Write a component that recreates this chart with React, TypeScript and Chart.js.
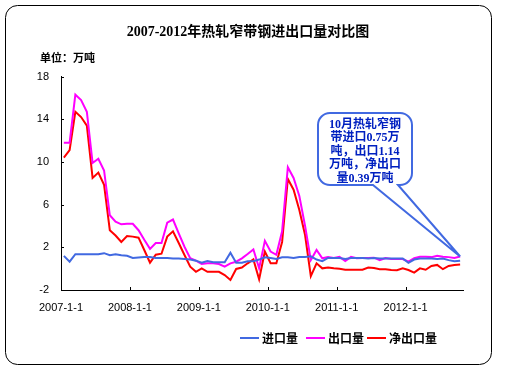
import { useEffect, useRef } from 'react';
import { Chart, registerables } from 'chart.js';

Chart.register(...registerables);

const titleText = '2007-2012年热轧窄带钢进出口量对比图';
const unitText = '单位：万吨';
const seriesNames = ['进口量', '出口量', '净出口量'];
const seriesColors = ['#4169E1', '#FF00FF', '#FF0000'];
const calloutLines = ['10月热轧窄钢', '带进口0.75万', '吨，出口1.14', '万吨，净出口', '量0.39万吨'];

// x tick positions (month index boundaries) and their labels
const tickPositions = [-0.5, 11.5, 23.5, 35.5, 47.5, 59.5];
const tickLabels = ['2007-1-1', '2008-1-1', '2009-1-1', '2010-1-1', '2011-1-1', '2012-1-1'];
const yTicks = [-2, 2, 6, 10, 14, 18];

// monthly values, Jan 2007 .. Oct 2012 (万吨)
const importVals = [
  1.2, 0.65, 1.35, 1.35, 1.35, 1.35, 1.35, 1.45, 1.25, 1.35, 1.25, 1.2,
  1.0, 1.05, 1.1, 1.1, 1.0, 1.0, 1.0, 0.95, 0.95, 0.9, 0.85, 0.75,
  0.55, 0.72, 0.6, 0.6, 0.6, 1.5, 0.55, 0.55, 0.7, 0.7, 0.85, 1.06,
  1.0, 0.9, 1.06, 1.06, 1.0, 1.1, 1.1, 1.15, 0.85, 0.7, 1.0, 1.0,
  1.0, 0.9, 1.0, 1.0, 1.0, 0.95, 1.0, 0.95, 0.95, 0.95, 0.95, 0.95,
  0.55, 0.85, 0.95, 0.95, 0.95, 0.9, 0.95, 0.8, 0.7, 0.75,
];
const exportVals = [
  11.8, 11.8, 16.3, 15.8, 14.7, 9.9, 10.3, 9.2, 5.0, 4.4, 4.15, 4.2,
  4.2, 3.6, 2.7, 1.85, 2.4, 2.4, 4.3, 4.6, 3.3, 2.05, 0.97, 0.75,
  0.43, 0.5, 0.5, 0.43, 0.18, 0.5, 0.65, 0.97, 1.37, 1.8, 0.03, 2.6,
  1.6, 1.3, 3.5, 9.5, 8.5, 6.8, 4.0, 0.8, 1.75, 0.97, 1.1, 1.0,
  1.1, 0.72, 1.1, 0.97, 1.0, 1.0, 1.03, 0.8, 1.0, 0.9, 0.9, 0.9,
  0.65, 0.97, 1.12, 1.12, 1.08, 1.2, 1.12, 1.08, 1.0, 1.14,
];
const netVals = [
  10.4, 11.1, 14.7, 14.2, 13.4, 8.5, 9.0, 7.85, 3.6, 3.1, 2.5, 3.05,
  3.0, 2.9, 1.75, 0.56, 1.3, 1.4, 3.0, 3.5, 2.4, 1.28, 0.18, -0.3,
  0.03, -0.3, -0.3, -0.3, -0.6, -1.06, -0.03, 0.1, 0.5, 0.87, -1.0, 1.6,
  0.5, 0.5, 2.5, 8.4, 7.4, 5.5, 3.15, -0.7, 0.5, 0.03, 0.1, 0.03,
  0.0, -0.1, -0.1, -0.1, -0.1, 0.1, 0.05, -0.05, -0.05, -0.13, -0.15, 0.03,
  -0.13, -0.37, 0.03, -0.1, 0.25, 0.35, -0.05, 0.25, 0.35, 0.39,
];

const allSeries = [importVals, exportVals, netVals];

const roundRect = (ctx: CanvasRenderingContext2D, x: number, y: number, w: number, h: number, r: number) => {
  ctx.beginPath();
  ctx.moveTo(x + r, y);
  ctx.lineTo(x + w - r, y);
  ctx.arcTo(x + w, y, x + w, y + r, r);
  ctx.lineTo(x + w, y + h - r);
  ctx.arcTo(x + w, y + h, x + w - r, y + h, r);
  ctx.lineTo(x + r, y + h);
  ctx.arcTo(x, y + h, x, y + h - r, r);
  ctx.lineTo(x, y + r);
  ctx.arcTo(x, y, x + r, y, r);
  ctx.closePath();
};

const decor = {
  id: 'decor',
  beforeDraw(chart: any) {
    const ctx = chart.ctx as CanvasRenderingContext2D;
    ctx.save();
    ctx.fillStyle = '#fff';
    ctx.fillRect(0, 0, chart.width, chart.height);
    roundRect(ctx, 5.5, 5.5, 486, 359, 12);
    ctx.strokeStyle = '#000';
    ctx.lineWidth = 1;
    ctx.stroke();
    ctx.restore();
  },
  afterDraw(chart: any) {
    const ctx = chart.ctx as CanvasRenderingContext2D;
    const area = chart.chartArea;
    const xs = chart.scales.x;
    const ys = chart.scales.y;
    ctx.save();

    // inward tick marks
    ctx.strokeStyle = '#000';
    ctx.lineWidth = 1;
    ctx.beginPath();
    tickPositions.forEach((v) => {
      const px = Math.round(xs.getPixelForValue(v)) + 0.5;
      ctx.moveTo(px, area.bottom);
      ctx.lineTo(px, area.bottom - 3);
    });
    yTicks.forEach((v) => {
      const py = Math.round(ys.getPixelForValue(v)) + 0.5;
      ctx.moveTo(area.left, py);
      ctx.lineTo(area.left + 3, py);
    });
    ctx.stroke();

    // title
    ctx.fillStyle = '#000';
    ctx.textBaseline = 'middle';
    ctx.textAlign = 'center';
    ctx.font = "bold 14px 'Liberation Serif', 'Noto Sans CJK SC'";
    ctx.fillText(titleText, 248, 32);
    ctx.textAlign = 'left';
    ctx.font = "bold 11px 'Noto Sans CJK SC'";
    ctx.fillText(unitText, 40, 58);

    // legend
    const legendX = [240, 306, 367];
    ctx.font = "bold 12px 'Noto Sans CJK SC'";
    seriesNames.forEach((name, i) => {
      const x = legendX[i];
      ctx.strokeStyle = seriesColors[i];
      ctx.lineWidth = 2;
      ctx.beginPath();
      ctx.moveTo(x, 338);
      ctx.lineTo(x + 19, 338);
      ctx.stroke();
      ctx.fillStyle = '#000';
      ctx.fillText(name, x + 22, 338);
    });

    // callout
    const last = exportVals.length - 1;
    const tipX = xs.getPixelForValue(last);
    const tipY = ys.getPixelForValue(exportVals[last]);
    const bx = area.left + 257, by = 113, bw = 94, bh = 72, r = 12;
    ctx.beginPath();
    ctx.moveTo(bx + r, by);
    ctx.lineTo(bx + bw - r, by);
    ctx.arcTo(bx + bw, by, bx + bw, by + r, r);
    ctx.lineTo(bx + bw, by + bh - r);
    ctx.arcTo(bx + bw, by + bh, bx + bw - r, by + bh, r);
    ctx.lineTo(bx + 80, by + bh);
    ctx.lineTo(tipX, tipY);
    ctx.lineTo(bx + 55, by + bh);
    ctx.lineTo(bx + r, by + bh);
    ctx.arcTo(bx, by + bh, bx, by + bh - r, r);
    ctx.lineTo(bx, by + r);
    ctx.arcTo(bx, by, bx + r, by, r);
    ctx.closePath();
    ctx.fillStyle = '#fff';
    ctx.fill();
    ctx.strokeStyle = '#4169E1';
    ctx.lineWidth = 2;
    ctx.stroke();
    ctx.fillStyle = '#0020C0';
    ctx.textAlign = 'center';
    ctx.font = "bold 12px 'Liberation Serif', 'Noto Sans CJK SC'";
    calloutLines.forEach((line, i) => {
      ctx.fillText(line, bx + bw / 2, 125 + i * 13.4);
    });
    ctx.restore();
  },
};

export default function App() {
  const ref = useRef<HTMLCanvasElement>(null);
  useEffect(() => {
    if (!ref.current) return;
    const chart = new Chart(ref.current, {
      type: 'line',
      data: {
        datasets: allSeries.map((vals, i) => ({
          label: seriesNames[i],
          data: vals.map((v, j) => ({ x: j, y: v })),
          borderColor: seriesColors[i],
          backgroundColor: seriesColors[i],
          borderWidth: 2,
          pointRadius: 0,
          tension: 0,
          fill: false,
        })),
      },
      options: {
        animation: false,
        responsive: true,
        maintainAspectRatio: false,
        layout: { padding: { left: 0, right: 49, top: 76.5, bottom: 64 } },
        plugins: { legend: { display: false }, title: { display: false }, tooltip: { enabled: false } },
        scales: {
          x: {
            type: 'linear',
            min: -0.5,
            max: 69.5,
            afterBuildTicks: (scale: any) => {
              scale.ticks = tickPositions.map((v) => ({ value: v }));
            },
            afterFit: (scale: any) => {
              scale.height = 30;
            },
            ticks: {
              autoSkip: false,
              maxRotation: 0,
              minRotation: 0,
              padding: 11,
              color: '#000',
              font: { family: "'Liberation Sans', Arial", size: 11 },
              callback: (_v: any, idx: number) => tickLabels[idx],
            },
            grid: { drawOnChartArea: false, drawTicks: false, color: '#000' },
            border: { display: true, color: '#000', width: 1 },
          },
          y: {
            min: -2,
            max: 18,
            afterBuildTicks: (scale: any) => {
              scale.ticks = yTicks.map((v) => ({ value: v }));
            },
            afterFit: (scale: any) => {
              scale.width = 61;
            },
            ticks: {
              padding: 12,
              color: '#000',
              font: { family: "'Liberation Sans', Arial", size: 11 },
            },
            grid: { drawOnChartArea: false, drawTicks: false, color: '#000' },
            border: { display: true, color: '#000', width: 1 },
          },
        },
      },
      plugins: [decor],
    });
    return () => chart.destroy();
  }, []);
  return (
    <div style={{ position: 'absolute', left: 0, top: 0, width: 512, height: 384 }}>
      <canvas ref={ref} />
    </div>
  );
}
